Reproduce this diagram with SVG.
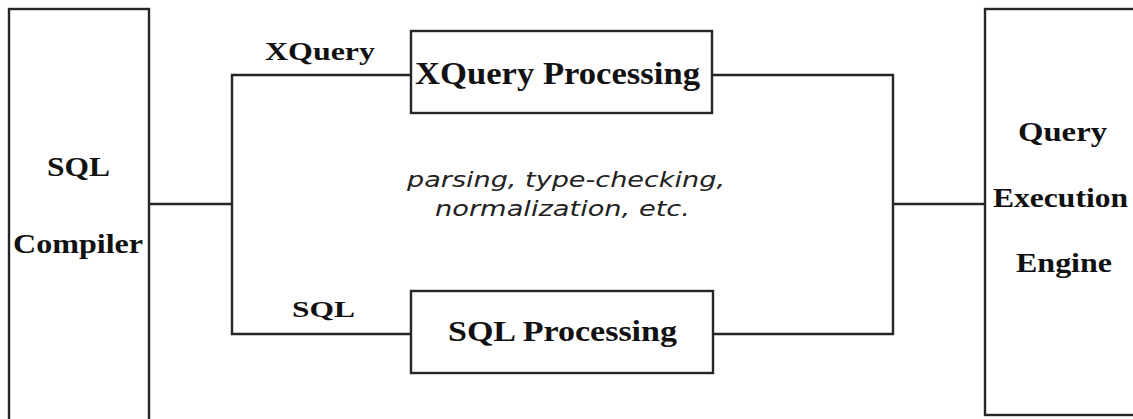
<svg xmlns="http://www.w3.org/2000/svg" width="1133" height="419" viewBox="0 0 1133 419">
<style>
.box{fill:#fff;stroke:#262626;stroke-width:2.4}
.ln{fill:none;stroke:#262626;stroke-width:2.4}
.b{font-family:"Liberation Serif","Times New Roman",serif;font-weight:bold;fill:#111}
.it{font-family:"DejaVu Sans",Verdana,sans-serif;font-style:italic;fill:#222;font-size:22px}
</style>
<rect width="1133" height="419" fill="#fff"/>
<g id="connectors">
<polyline class="ln" points="149,204 232,204"/>
<polyline class="ln" points="411,75 232,75 232,334 411,334"/>
<polyline class="ln" points="712,75 893,75 893,334 713,334"/>
<polyline class="ln" points="893,204 985,204"/>
</g>
<g id="sql-compiler">
<rect class="box" x="9" y="9" width="140" height="420"/>
<text class="b" x="47" y="176" font-size="28" textLength="63" lengthAdjust="spacingAndGlyphs">SQL</text>
<text class="b" x="13" y="253" font-size="28" textLength="130" lengthAdjust="spacingAndGlyphs">Compiler</text>
</g>
<g id="xquery-processing">
<rect class="box" x="411" y="31" width="301" height="82"/>
<text class="b" x="415" y="84" font-size="32" textLength="285" lengthAdjust="spacingAndGlyphs">XQuery Processing</text>
</g>
<g id="sql-processing">
<rect class="box" x="411" y="291" width="302" height="82"/>
<text class="b" x="448" y="341" font-size="30" textLength="229" lengthAdjust="spacingAndGlyphs">SQL Processing</text>
</g>
<g id="query-execution-engine">
<rect class="box" x="985" y="9" width="200" height="406"/>
<text class="b" x="1018" y="141" font-size="28" textLength="89" lengthAdjust="spacingAndGlyphs">Query</text>
<text class="b" x="993" y="207" font-size="28" textLength="135" lengthAdjust="spacingAndGlyphs">Execution</text>
<text class="b" x="1016" y="272" font-size="28" textLength="96" lengthAdjust="spacingAndGlyphs">Engine</text>
</g>
<g id="labels">
<text class="b" x="265" y="60" font-size="25" textLength="110" lengthAdjust="spacingAndGlyphs">XQuery</text>
<text class="b" x="292" y="317" font-size="24" textLength="63" lengthAdjust="spacingAndGlyphs">SQL</text>
<text class="it" x="407" y="187" textLength="318" lengthAdjust="spacingAndGlyphs">parsing, type-checking,</text>
<text class="it" x="435" y="216" textLength="255" lengthAdjust="spacingAndGlyphs">normalization, etc.</text>
</g>
</svg>
